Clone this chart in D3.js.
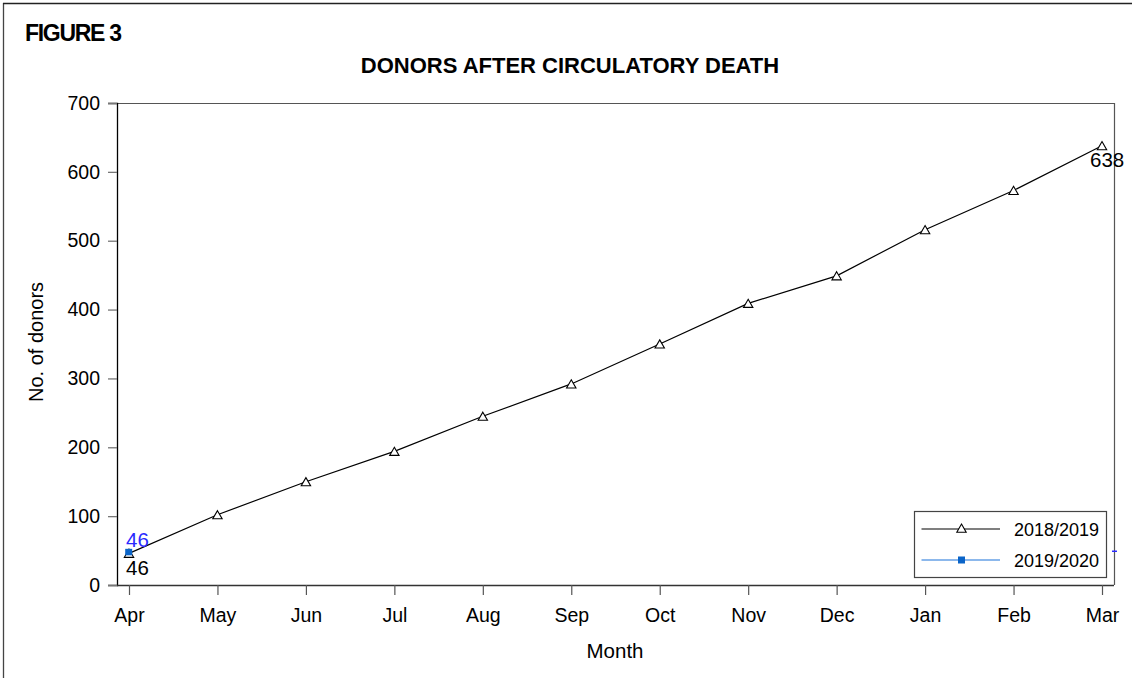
<!DOCTYPE html>
<html>
<head>
<meta charset="utf-8">
<script src="https://cdn.jsdelivr.net/npm/d3@7"></script>
<style>
  body { margin: 0; background: #fff; }
  svg { display: block; font-family: "Liberation Sans", Arial, sans-serif; }
</style>
</head>
<body>
<svg width="1132" height="678"></svg>
<script>
// Month categories (April to March)
const months = ["Apr", "May", "Jun", "Jul", "Aug", "Sep", "Oct", "Nov", "Dec", "Jan", "Feb", "Mar"];

// Cumulative donors, 2018/2019
const donors1819 = [46, 102, 150, 194, 245, 292, 350, 409, 449, 516, 573, 638];

// Cumulative donors, 2019/2020 (only April so far)
const donors1920 = [46];

const yTicks = [0, 100, 200, 300, 400, 500, 600, 700];

const svg = d3.select("svg");

// plot frame
const plotLeft = 117, plotRight = 1114, plotTop = 103, plotBottom = 585;

const x = d3.scalePoint().domain(months).range([129, 1102]);
const y = d3.scaleLinear().domain([0, 700]).range([plotBottom, plotTop]);

// outer page border (left and top only)
svg.append("line").attr("x1", 3.5).attr("x2", 3.5).attr("y1", 3).attr("y2", 678)
    .attr("stroke", "#444").attr("stroke-width", 1.3);
svg.append("line").attr("x1", 3).attr("x2", 1132).attr("y1", 3.5).attr("y2", 3.5)
    .attr("stroke", "#222").attr("stroke-width", 1.3);

svg.append("text")
    .attr("x", 25).attr("y", 41)
    .attr("font-size", 23).attr("font-weight", "bold")
    .attr("letter-spacing", -1.3)
    .text("FIGURE 3");

svg.append("text")
    .attr("x", 570).attr("y", 73)
    .attr("text-anchor", "middle")
    .attr("font-size", 22).attr("font-weight", "bold")
    .text("DONORS AFTER CIRCULATORY DEATH");

// top and right frame lines
svg.append("path")
    .attr("d", `M${plotLeft},${plotTop + 0.5}H${plotRight + 0.5}V${plotBottom}`)
    .attr("fill", "none").attr("stroke", "#555").attr("stroke-width", 1.2);

// y axis
const yAxis = svg.append("g")
    .attr("transform", `translate(${plotLeft},0)`)
    .call(d3.axisLeft(y).tickValues(yTicks).tickSize(9).tickPadding(8));
yAxis.select(".domain").attr("stroke", "#000").attr("stroke-width", 1.3);
yAxis.selectAll(".tick line").attr("stroke", "#777").attr("stroke-width", 1.3);
yAxis.selectAll(".tick text").attr("font-size", 19.5).attr("fill", "#000")
    .attr("font-family", "Liberation Sans, Arial, sans-serif");

// x axis
const xAxis = svg.append("g")
    .attr("transform", `translate(0,${plotBottom})`)
    .call(d3.axisBottom(x).tickSize(10).tickPadding(13).tickSizeOuter(0));
xAxis.select(".domain").attr("d", `M${plotLeft},0.5H${plotRight}`)
    .attr("stroke", "#333").attr("stroke-width", 1.3);
xAxis.selectAll(".tick line").attr("stroke", "#555").attr("stroke-width", 1.2);
xAxis.selectAll(".tick text").attr("font-size", 19.5).attr("fill", "#000")
    .attr("font-family", "Liberation Sans, Arial, sans-serif");

// axis titles
svg.append("text")
    .attr("transform", `translate(43,342) rotate(-90)`)
    .attr("text-anchor", "middle")
    .attr("font-size", 20)
    .text("No. of donors");

svg.append("text")
    .attr("x", 615).attr("y", 658)
    .attr("text-anchor", "middle")
    .attr("font-size", 20.5)
    .text("Month");

// series 2018/2019
const line = d3.line()
    .x((d, i) => x(months[i]))
    .y(d => y(d));

svg.append("path")
    .datum(donors1819)
    .attr("fill", "none")
    .attr("stroke", "#000")
    .attr("stroke-width", 1.2)
    .attr("d", line);

const tri = d3.symbol().type(d3.symbolTriangle).size(38);

svg.selectAll("path.tri")
    .data(donors1819)
    .enter()
    .append("path")
    .attr("class", "tri")
    .attr("transform", (d, i) => `translate(${x(months[i])},${y(d) + 1.3})`)
    .attr("d", tri)
    .attr("fill", "#fff")
    .attr("stroke", "#000")
    .attr("stroke-width", 1.1);

// series 2019/2020
svg.append("path")
    .datum(donors1920)
    .attr("fill", "none")
    .attr("stroke", "#1a73d9")
    .attr("stroke-width", 1.2)
    .attr("d", line);

svg.selectAll("rect.sq")
    .data(donors1920)
    .enter()
    .append("rect")
    .attr("class", "sq")
    .attr("x", (d, i) => x(months[i]) - 3.8)
    .attr("y", d => y(d) - 4.5)
    .attr("width", 7).attr("height", 6.5)
    .attr("fill", "#0a64c8");

// point labels
const first = donors1819[0], last = donors1819[donors1819.length - 1];
svg.append("text")
    .attr("x", x(months[0]) - 3).attr("y", y(first) + 22)
    .attr("font-size", 20.5).attr("fill", "#000")
    .text(first);
svg.append("text")
    .attr("x", x(months[0]) - 3).attr("y", y(donors1920[0]) - 6.5)
    .attr("font-size", 20.5).attr("fill", "#2a2aff")
    .text(donors1920[0]);
svg.append("text")
    .attr("x", x(months[months.length - 1]) - 12).attr("y", y(last) + 21.5)
    .attr("font-size", 20.5).attr("fill", "#000")
    .text(last);

// small blue stub at the right edge
svg.append("line")
    .attr("x1", plotRight - 2).attr("x2", plotRight + 3)
    .attr("y1", y(49)).attr("y2", y(49))
    .attr("stroke", "#2a2aff").attr("stroke-width", 1.5);

// legend
const legend = svg.append("g").attr("transform", "translate(914,511)");
legend.append("rect")
    .attr("x", 0.5).attr("y", 0.5).attr("width", 192).attr("height", 66)
    .attr("fill", "#fff").attr("stroke", "#444").attr("stroke-width", 1.2);

const legendItems = [
    { label: "2018/2019", color: "#000", marker: "tri" },
    { label: "2019/2020", color: "#1a73d9", marker: "sq" }
];

legendItems.forEach((s, i) => {
    const cy = 18 + i * 31;
    legend.append("line")
        .attr("x1", 7.5).attr("x2", 86).attr("y1", cy).attr("y2", cy)
        .attr("stroke", s.color).attr("stroke-width", 1.1);
    if (s.marker === "tri") {
        legend.append("path")
            .attr("transform", `translate(47.5,${cy + 0.5})`)
            .attr("d", tri)
            .attr("fill", "#fff").attr("stroke", "#000").attr("stroke-width", 1.1);
    } else {
        legend.append("rect")
            .attr("x", 44).attr("y", cy - 3.5).attr("width", 7).attr("height", 7)
            .attr("fill", "#0a64c8");
    }
    legend.append("text")
        .attr("x", 100).attr("y", cy + 7)
        .attr("font-size", 18)
        .text(s.label);
});
</script>
</body>
</html>
